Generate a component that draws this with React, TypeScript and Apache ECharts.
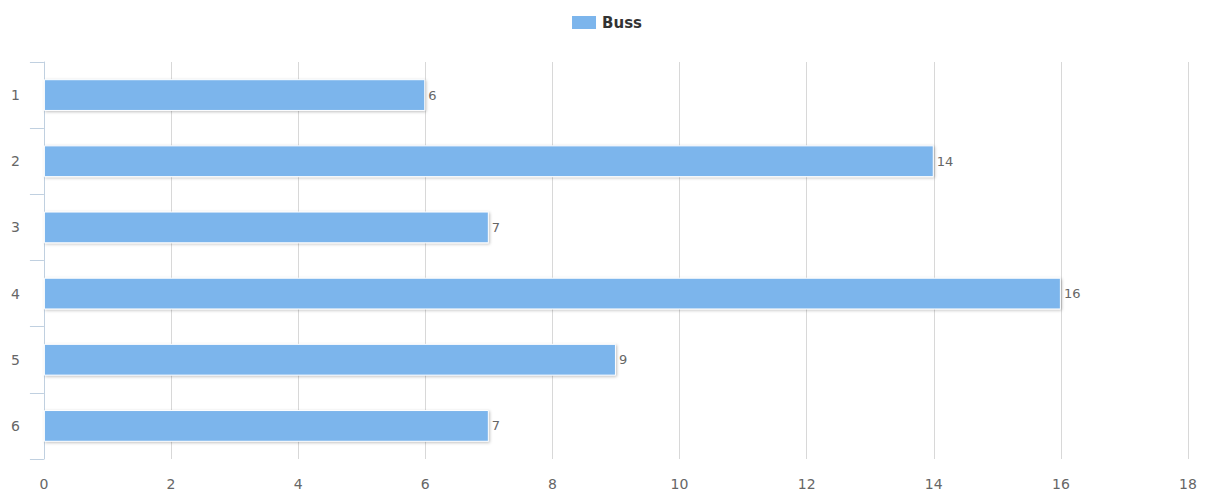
import React, { useEffect, useRef } from "react";
import * as echarts from "echarts";

const categories = ["1", "2", "3", "4", "5", "6"];
const bussValues = [6, 14, 7, 16, 9, 7];
const seriesName = "Buss";

export default function App() {
  const ref = useRef<HTMLDivElement>(null);
  useEffect(() => {
    const chart = echarts.init(ref.current!, null, { renderer: "svg" });
    chart.setOption({
      animation: false,
      textStyle: { fontFamily: "DejaVu Sans" },
      legend: {
        data: [seriesName],
        icon: "rect",
        top: 1,
        left: "center",
        itemWidth: 26,
        itemHeight: 15,
        itemGap: 8,
        textStyle: { fontWeight: "bold", fontSize: 15, color: "#333", fontFamily: "DejaVu Sans" },
      },
      grid: { left: 34, right: 16, top: 54, bottom: 29, containLabel: false },
      xAxis: {
        type: "value",
        min: 0,
        max: 18,
        interval: 2,
        axisLine: { show: false },
        axisTick: { show: false },
        splitLine: { show: true, lineStyle: { color: "#d8d8d8", width: 1 } },
        axisLabel: { color: "#666", fontSize: 14, margin: 18, fontFamily: "DejaVu Sans" },
      },
      yAxis: {
        type: "category",
        data: categories,
        inverse: true,
        axisLine: { show: true, lineStyle: { color: "#c0d0e0", width: 1 } },
        axisTick: { show: true, length: 14, lineStyle: { color: "#c0d0e0" } },
        axisLabel: { color: "#666", fontSize: 14, margin: 24, fontFamily: "DejaVu Sans" },
        splitLine: { show: false },
      },
      series: [
        {
          name: seriesName,
          type: "bar",
          data: bussValues,
          barWidth: "48%",
          itemStyle: {
            color: "#7cb5ec",
            borderColor: "#ffffff",
            borderWidth: 1,
            shadowColor: "rgba(0,0,0,0.25)",
            shadowBlur: 3,
            shadowOffsetX: 1,
            shadowOffsetY: 1,
          },
          label: {
            show: true,
            position: "right",
            distance: 3,
            color: "#666",
            fontSize: 13,
            fontFamily: "DejaVu Sans",
          },
        },
      ],
    });
    return () => chart.dispose();
  }, []);
  return <div ref={ref} style={{ width: 1196, height: 483 }} />;
}
